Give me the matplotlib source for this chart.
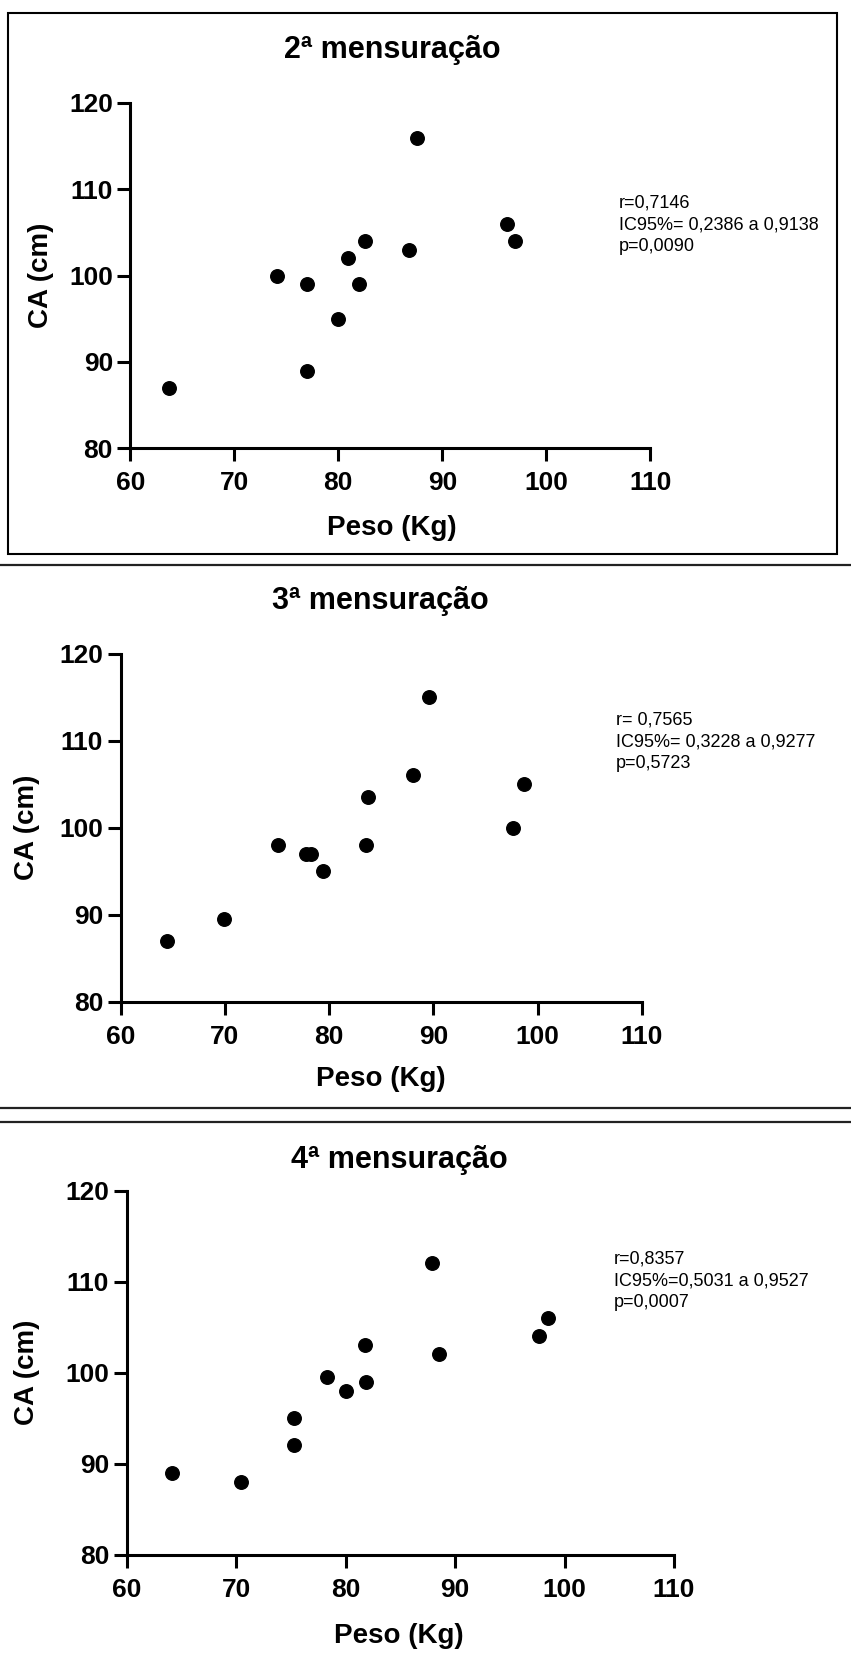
import matplotlib
matplotlib.use("Agg")
import matplotlib.pyplot as plt
from matplotlib.lines import Line2D
from matplotlib.patches import Rectangle

# data (Peso in kg, CA in cm)
peso_2 = [63.7, 74.1, 77.0, 77.0, 80.0, 80.9, 82.0, 82.6, 86.8, 87.6, 96.2, 97.0]
ca_2 = [87, 100, 99, 89, 95, 102, 99, 104, 103, 116, 106, 104]

peso_3 = [64.5, 69.9, 75.1, 77.8, 78.3, 79.4, 83.5, 83.7, 88.0, 89.6, 97.6, 98.7]
ca_3 = [87, 89.5, 98, 97, 97, 95, 98, 103.5, 106, 115, 100, 105]

peso_4 = [64.2, 70.5, 75.3, 75.3, 78.3, 80.0, 81.8, 81.9, 87.9, 88.5, 97.7, 98.5]
ca_4 = [89, 88, 95, 92, 99.5, 98, 103, 99, 112, 102, 104, 106]

titles = ["2ª mensuração", "3ª mensuração", "4ª mensuração"]
stats = [
    "r=0,7146\nIC95%= 0,2386 a 0,9138\np=0,0090",
    "r= 0,7565\nIC95%= 0,3228 a 0,9277\np=0,5723",
    "r=0,8357\nIC95%=0,5031 a 0,9527\np=0,0007",
]
x_ticks = [60, 70, 80, 90, 100, 110]
y_ticks = [80, 90, 100, 110, 120]

W, H = 851, 1657
plt.rcParams['font.family'] = ['Liberation Sans', 'DejaVu Sans']

fig = plt.figure(figsize=(W / 100, H / 100), dpi=100)


def fx(px):
    return px / W


def fy(py):
    return 1 - py / H


# axes boxes in pixels: left, right, top, bottom
boxes = [(130.3, 650.3, 103.0, 448.3),
         (120.5, 642.0, 653.5, 1001.7),
         (126.5, 674.0, 1190.6, 1554.7)]
title_pos = [(392, 50), (380, 601), (399, 1160)]
xlabel_pos = [(392, 528), (381, 1079), (399, 1636)]
ylabel_x = [41, 27, 27]
stats_pos = [(619, 225), (616, 742), (614, 1281)]

data = [(peso_2, ca_2), (peso_3, ca_3), (peso_4, ca_4)]

for i, (xs, ys) in enumerate(data):
    l, r, t, b = boxes[i]
    ax = fig.add_axes([fx(l), fy(b), fx(r) - fx(l), fy(t) - fy(b)])
    ax.scatter(xs, ys, s=95, color='black', zorder=3, clip_on=False)
    ax.set_xlim(60, 110)
    ax.set_ylim(80, 120)
    ax.set_xticks(x_ticks)
    ax.set_yticks(y_ticks)
    for side in ['top', 'right']:
        ax.spines[side].set_visible(False)
    for side in ['left', 'bottom']:
        ax.spines[side].set_linewidth(2.2)
    ax.tick_params(direction='out', length=9.5, width=2.2, labelsize=19)
    ax.tick_params(axis='y', pad=3)
    ax.tick_params(axis='x', pad=7)
    for lab in ax.get_xticklabels() + ax.get_yticklabels():
        lab.set_fontweight('bold')
    ax.patch.set_visible(False)

    fig.text(fx(title_pos[i][0]), fy(title_pos[i][1]), titles[i],
             ha='center', va='center', fontsize=22, fontweight='bold')
    fig.text(fx(xlabel_pos[i][0]), fy(xlabel_pos[i][1]), "Peso (Kg)",
             ha='center', va='center', fontsize=20, fontweight='bold')
    fig.text(fx(ylabel_x[i]), fy((t + b) / 2), "CA (cm)", rotation=90,
             ha='center', va='center', fontsize=20, fontweight='bold')
    fig.text(fx(stats_pos[i][0]), fy(stats_pos[i][1]), stats[i],
             ha='left', va='center', fontsize=13, linespacing=1.35)

# frame round the first panel and the separator lines
fig.add_artist(Rectangle((fx(8.3), fy(553.7)), fx(836.7) - fx(8.3),
                         fy(12.7) - fy(553.7), fill=False,
                         edgecolor='black', linewidth=1.5))
for yy in [565, 1107.7, 1122.3]:
    fig.add_artist(Line2D([0, 1], [fy(yy), fy(yy)], color='#222222',
                          linewidth=1.6))

plt.savefig("out.png", dpi=100)
plt.close()
